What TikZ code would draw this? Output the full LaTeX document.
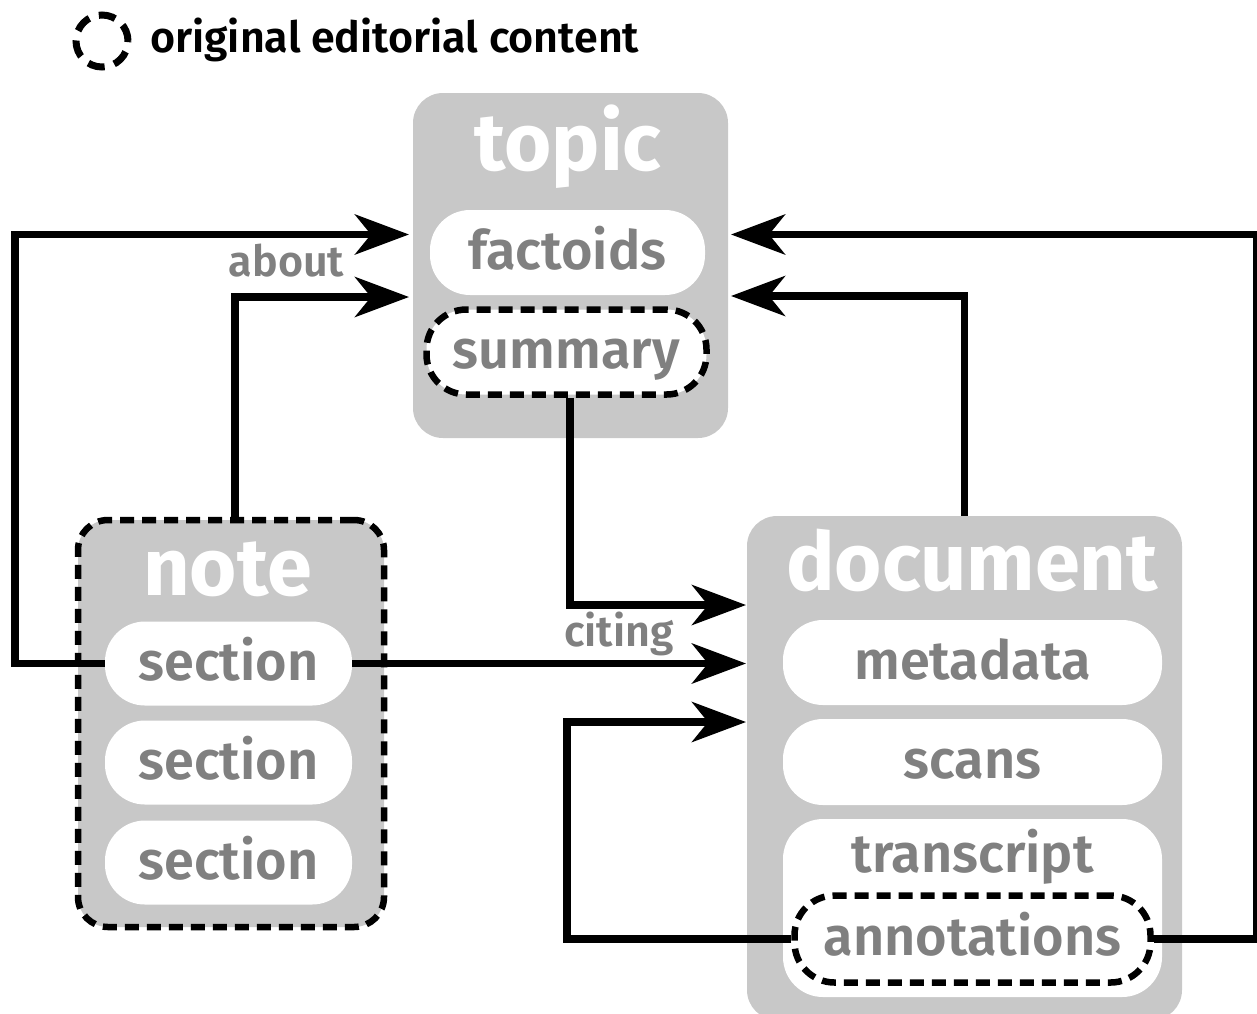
\documentclass[tikz,border=0pt]{standalone}
\usepackage{fontspec}
\setmainfont{Fira Sans}
\newfontfamily\semibold{Fira Sans SemiBold}
\usetikzlibrary{arrows.meta}
\definecolor{boxgray}{HTML}{C8C8C8}
\definecolor{txtgray}{HTML}{808080}
\tikzset{
  panel/.style={fill=boxgray, rounded corners=30pt, inner sep=0pt},
  pill/.style={fill=white, rounded corners=40pt, inner sep=0pt, text=txtgray,
    font=\semibold\fontsize{54}{54}\selectfont, text height=33pt, text depth=0pt},
  itemtext/.style={text=txtgray, font=\semibold\fontsize{54}{54}\selectfont, inner sep=0pt},
  editorial/.style={draw=black, line width=6.5pt, dash pattern=on 14pt off 8pt},
  hdr/.style={text=white, font=\bfseries\fontsize{81}{81}\selectfont, anchor=base, inner sep=0pt},
  lbl/.style={text=txtgray, font=\semibold\fontsize{43}{43}\selectfont, anchor=base, inner sep=0pt},
  link/.style={line width=7.5pt, -{Stealth[length=54pt, width=40pt, inset=16pt]}},
}
\begin{document}
\begin{tikzpicture}[x=1pt, y=-1pt]
  \useasboundingbox (0,0) rectangle (1257,1013);
  \clip (0,0) rectangle (1257,1013);

  \node[editorial, circle, minimum size=52pt, line width=7pt, dash pattern=on 17pt off 10pt] (legendmark) at (102,41) {};
  \node[anchor=base west, inner sep=0pt, font=\semibold\fontsize{43}{43}\selectfont] (legendtext) at (150,52) {original editorial content};

  \node[panel, minimum width=315pt, minimum height=345pt] (topic) at (570.5,265.5) {};
  \node[hdr] (topichd) at (568,170) {topic};
  \node[pill, minimum width=275pt, minimum height=85pt] (factoids) at (567.5,252.5) {factoids};
  \node[pill, editorial, minimum width=280pt, minimum height=85pt] (summary) at (566.5,352) {summary};

  \node[panel, editorial, minimum width=306pt, minimum height=407pt] (note) at (231,723.5) {};
  \node[hdr] (notehd) at (227.5,595) {note};
  \node[pill, minimum width=247pt, minimum height=84pt] (sec1) at (228.5,663.5) {section};
  \node[pill, minimum width=247pt, minimum height=84pt] (sec2) at (228.5,762.5) {section};
  \node[pill, minimum width=247pt, minimum height=84pt] (sec3) at (228.5,862.5) {section};

  \node[panel, minimum width=435pt, minimum height=504pt] (doc) at (964.5,768) {};
  \node[hdr] (dochd) at (972,590) {document};
  \node[pill, minimum width=379pt, minimum height=85pt] (metadata) at (972.5,662.5) {metadata};
  \node[pill, minimum width=379pt, minimum height=86pt] (scans) at (972.5,762) {scans};
  \node[pill, minimum width=379pt, minimum height=178pt] (transcript) at (972.5,908) {};
  \node[itemtext, anchor=base] (transcripttext) at (972.5,872) {transcript};
  \node[pill, editorial, minimum width=356pt, minimum height=87pt] (annot) at (972.5,939) {annotations};

  \coordinate (topicinA) at (409,234.5);
  \coordinate (topicinB) at (409,297);
  \coordinate (topicoutA) at (731,234.5);
  \coordinate (topicoutB) at (731,296);
  \coordinate (docinA) at (746,605);
  \coordinate (docinB) at (746,663.5);
  \coordinate (docinC) at (746,722);

  \draw[link] (sec1.west) -- ++(-90,0) |- (topicinA);
  \draw[link] ([xshift=4pt]note.north) |- (topicinB);
  \draw[link] ([xshift=3.5pt]summary.south) |- (docinA);
  \draw[link] (sec1.east) -- (docinB);
  \draw[link] (annot.west) -- ++(-224.5,0) |- (docinC);
  \draw[link] (annot.east) -- ++(102.5,0) |- (topicoutA);
  \draw[link] (doc.north) |- (topicoutB);

  \node[lbl] (about) at (286.5,276) {about};
  \node[lbl] (citing) at (619,646) {citing};
\end{tikzpicture}
\end{document}
